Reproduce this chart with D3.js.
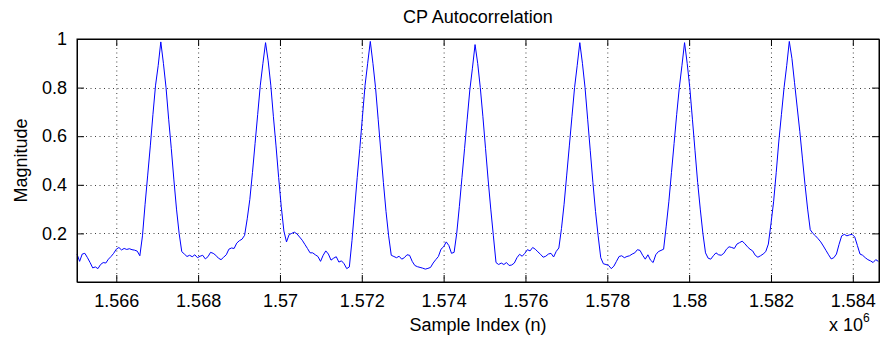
<!DOCTYPE html>
<html>
<head>
<meta charset="utf-8">
<script src="https://cdn.jsdelivr.net/npm/d3@7"></script>
<style>
  body { margin: 0; background: #fff; }
  text { font-family: "Liberation Sans", Arial, Helvetica, sans-serif; fill: #000; }
  .grid line { stroke: #000; stroke-width: 1; stroke-dasharray: 1,3.5; opacity: 0.75; }
</style>
</head>
<body>
<div id="chart"></div>
<script>
// x axis: sample index, one value every 64 samples
const startSample = 1565040;
const sampleStep = 64;

// magnitude, segment by segment (baseline, peak, baseline ...)
const magnitude = [
  // baseline 0
  0.115, 0.085, 0.115, 0.118, 0.100, 0.080, 0.058, 0.062, 0.055, 0.072,
  0.080, 0.078, 0.094, 0.105, 0.118, 0.135, 0.142, 0.132, 0.138, 0.134,
  0.137, 0.133, 0.131, 0.127, 0.108,
  // peak 1
  0.19, 0.32, 0.44, 0.56, 0.69, 0.81, 0.89, 0.988, 0.90, 0.80, 0.67, 0.55, 0.42, 0.30, 0.20,
  // baseline 1
  0.125, 0.115, 0.105, 0.110, 0.104, 0.112, 0.100, 0.106, 0.110, 0.095,
  0.104, 0.122, 0.118, 0.110, 0.098, 0.092, 0.102, 0.112, 0.135, 0.140,
  0.138, 0.160, 0.170, 0.176, 0.192,
  // peak 2
  0.26, 0.34, 0.45, 0.57, 0.69, 0.81, 0.90, 0.985, 0.91, 0.81, 0.68, 0.56, 0.43, 0.31, 0.21,
  // baseline 2
  0.165, 0.195, 0.200, 0.205, 0.198, 0.185, 0.172, 0.155, 0.138, 0.120,
  0.120, 0.112, 0.105, 0.085, 0.110, 0.128, 0.115, 0.090, 0.098, 0.104,
  0.082, 0.087, 0.075, 0.055, 0.062,
  // peak 3
  0.17, 0.30, 0.43, 0.55, 0.68, 0.81, 0.90, 0.99, 0.90, 0.80, 0.67, 0.54, 0.41, 0.29, 0.19,
  // baseline 3
  0.110, 0.105, 0.100, 0.106, 0.094, 0.100, 0.112, 0.110, 0.085, 0.068,
  0.063, 0.060, 0.057, 0.053, 0.056, 0.060, 0.078, 0.092, 0.105, 0.135,
  0.145, 0.165, 0.150, 0.118, 0.122,
  // peak 4
  0.20, 0.31, 0.43, 0.55, 0.67, 0.79, 0.88, 0.977, 0.90, 0.80, 0.68, 0.55, 0.42, 0.30, 0.19,
  // baseline 4
  0.080, 0.072, 0.078, 0.072, 0.080, 0.068, 0.070, 0.078, 0.100, 0.114,
  0.106, 0.118, 0.133, 0.128, 0.142, 0.135, 0.124, 0.114, 0.102, 0.106,
  0.115, 0.118, 0.103, 0.126, 0.140,
  // peak 5
  0.22, 0.32, 0.44, 0.56, 0.68, 0.80, 0.89, 0.985, 0.90, 0.80, 0.67, 0.54, 0.41, 0.29, 0.19,
  // baseline 5
  0.100, 0.075, 0.072, 0.068, 0.055, 0.065, 0.085, 0.105, 0.108, 0.100,
  0.105, 0.108, 0.115, 0.120, 0.133, 0.130, 0.110, 0.094, 0.112, 0.090,
  0.080, 0.112, 0.125, 0.130, 0.135,
  // peak 6
  0.23, 0.33, 0.45, 0.57, 0.69, 0.80, 0.89, 0.985, 0.90, 0.80, 0.67, 0.54, 0.41, 0.30, 0.20,
  // baseline 6
  0.120, 0.098, 0.094, 0.108, 0.120, 0.112, 0.110, 0.118, 0.135, 0.145,
  0.142, 0.138, 0.156, 0.162, 0.168, 0.158, 0.145, 0.135, 0.128, 0.110,
  0.102, 0.108, 0.115, 0.125, 0.156,
  // peak 7
  0.24, 0.33, 0.45, 0.58, 0.69, 0.80, 0.89, 0.99, 0.92, 0.82, 0.72, 0.62, 0.51, 0.40, 0.30,
  // baseline 7
  0.215, 0.200, 0.190, 0.178, 0.165, 0.148, 0.130, 0.112, 0.095, 0.100,
  0.115, 0.155, 0.190, 0.196, 0.190, 0.194, 0.196, 0.185, 0.150, 0.115,
  0.110, 0.100, 0.092, 0.087, 0.080, 0.092, 0.085
];

const xTicks = [1566000, 1568000, 1570000, 1572000, 1574000, 1576000, 1578000, 1580000, 1582000, 1584000];
const xTickLabels = ["1.566", "1.568", "1.57", "1.572", "1.574", "1.576", "1.578", "1.58", "1.582", "1.584"];
const yTicks = [0.2, 0.4, 0.6, 0.8, 1];
const yTickLabels = ["0.2", "0.4", "0.6", "0.8", "1"];

const W = 880, H = 340;
const margin = { top: 39, right: 1, bottom: 58, left: 77 };
const width = W - margin.left - margin.right;
const height = H - margin.top - margin.bottom;
const fontSize = 18;

const points = magnitude.map((m, i) => ({ n: startSample + i * sampleStep, m: m }));

const svg = d3.select("#chart").append("svg")
  .attr("width", W)
  .attr("height", H);

const x = d3.scaleLinear().domain([1565040, 1584640]).range([0, width]);
const y = d3.scaleLinear().domain([0, 1]).range([height, 0]);

const chart = svg.append("g")
  .attr("transform", `translate(${margin.left},${margin.top})`);

// grid
const grid = chart.append("g").attr("class", "grid");
grid.selectAll(".vg").data(xTicks).enter().append("line")
  .attr("x1", d => x(d) + 0.5).attr("x2", d => x(d) + 0.5)
  .attr("y1", 0).attr("y2", height);
grid.selectAll(".hg").data(yTicks).enter().append("line")
  .attr("x1", 0).attr("x2", width)
  .attr("y1", d => Math.round(y(d)) + 0.5).attr("y2", d => Math.round(y(d)) + 0.5);

// line
const line = d3.line()
  .x(d => x(d.n))
  .y(d => y(d.m));

chart.append("path")
  .datum(points)
  .attr("fill", "none")
  .attr("stroke", "#0000ff")
  .attr("stroke-width", 1)
  .attr("d", line);

// axes, matlab style ticks pointing inwards
const tickLen = 7;
const xAxis = d3.axisBottom(x).tickValues(xTicks).tickSizeInner(-tickLen).tickSizeOuter(0)
  .tickPadding(12).tickFormat((d, i) => xTickLabels[i]);
const xAxisTop = d3.axisTop(x).tickValues(xTicks).tickSizeInner(-tickLen).tickSizeOuter(0)
  .tickFormat("");
const yAxis = d3.axisLeft(y).tickValues(yTicks).tickSizeInner(-tickLen).tickSizeOuter(0)
  .tickPadding(10).tickFormat((d, i) => yTickLabels[i]);
const yAxisRight = d3.axisRight(y).tickValues(yTicks).tickSizeInner(-tickLen).tickSizeOuter(0)
  .tickFormat("");

function styleAxis(g) {
  g.select(".domain").attr("stroke", "#000");
  g.selectAll(".tick line").attr("stroke", "#000");
  g.selectAll(".tick text")
    .style("font-family", "'Liberation Sans', Arial, Helvetica, sans-serif")
    .style("font-size", fontSize + "px")
    .attr("fill", "#000");
}

chart.append("g").attr("transform", `translate(0,${height})`).call(xAxis).call(styleAxis);
chart.append("g").call(xAxisTop).call(styleAxis);
chart.append("g").call(yAxis).call(styleAxis);
chart.append("g").attr("transform", `translate(${width},0)`).call(yAxisRight).call(styleAxis);

// box
chart.append("rect")
  .attr("x", 0).attr("y", 0)
  .attr("width", width).attr("height", height)
  .attr("fill", "none").attr("stroke", "#000");

// labels
svg.append("text")
  .attr("x", margin.left + width / 2).attr("y", 23)
  .attr("text-anchor", "middle")
  .style("font-size", fontSize + "px")
  .text("CP Autocorrelation");

svg.append("text")
  .attr("x", margin.left + width / 2).attr("y", 331)
  .attr("text-anchor", "middle")
  .style("font-size", fontSize + "px")
  .text("Sample Index (n)");

svg.append("text")
  .attr("transform", `translate(27,${margin.top + height / 2}) rotate(-90)`)
  .attr("text-anchor", "middle")
  .style("font-size", fontSize + "px")
  .text("Magnitude");

const expo = svg.append("text")
  .attr("x", 829).attr("y", 331)
  .style("font-size", fontSize + "px");
expo.append("tspan").text("x 10");
expo.append("tspan").attr("dy", -9).style("font-size", "12px").text("6");
</script>
</body>
</html>
